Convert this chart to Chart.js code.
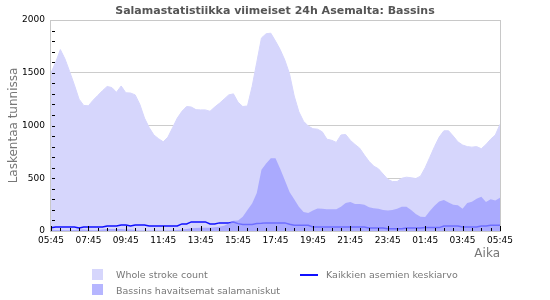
<!DOCTYPE html>
<html>
<head>
<meta charset="utf-8">
<script src="https://cdn.jsdelivr.net/npm/chart.js@4/dist/chart.umd.min.js"></script>
<style>
  body { margin: 0; background: #fff; font-family: "DejaVu Sans", sans-serif; }
  #wrap { position: relative; width: 550px; height: 300px; }
  #title { position: absolute; left: 0; top: 4px; width: 550px; text-align: center;
           font-size: 11px; font-weight: bold; color: #555; line-height: 13px; }
  .legText { position: absolute; font-size: 9.5px; color: #777; line-height: 12px; white-space: nowrap; }
  .legBox { position: absolute; width: 11px; height: 11px; }
  .legLine { position: absolute; width: 18px; height: 2px; }
</style>
</head>
<body>
<div id="wrap">
  <canvas id="strikeChart" width="550" height="300"></canvas>
  <div id="title">Salamastatistiikka viimeiset 24h Asemalta: Bassins</div>
  <div id="legend"></div>
</div>
<script>
// 15 minute steps over the last 24h
const times = [
  "05:45",
  "06:00", "06:15", "06:30", "06:45", "07:00", "07:15", "07:30", "07:45",
  "08:00", "08:15", "08:30", "08:45", "09:00", "09:15", "09:30", "09:45",
  "10:00", "10:15", "10:30", "10:45", "11:00", "11:15", "11:30", "11:45",
  "12:00", "12:15", "12:30", "12:45", "13:00", "13:15", "13:30", "13:45",
  "14:00", "14:15", "14:30", "14:45", "15:00", "15:15", "15:30", "15:45",
  "16:00", "16:15", "16:30", "16:45", "17:00", "17:15", "17:30", "17:45",
  "18:00", "18:15", "18:30", "18:45", "19:00", "19:15", "19:30", "19:45",
  "20:00", "20:15", "20:30", "20:45", "21:00", "21:15", "21:30", "21:45",
  "22:00", "22:15", "22:30", "22:45", "23:00", "23:15", "23:30", "23:45",
  "00:00", "00:15", "00:30", "00:45", "01:00", "01:15", "01:30", "01:45",
  "02:00", "02:15", "02:30", "02:45", "03:00", "03:15", "03:30", "03:45",
  "04:00", "04:15", "04:30", "04:45", "05:00", "05:15", "05:30", "05:45"
];

const tickLabels = ["05:45", "07:45", "09:45", "11:45", "13:45", "15:45", "17:45",
  "19:45", "21:45", "23:45", "01:45", "03:45"];

const wholeStrokes = [
  1500, 1600, 1720, 1630, 1510, 1385, 1250, 1190, 1187, 1240, 1285, 1330,
  1370, 1360, 1315, 1375, 1310, 1308, 1290, 1200, 1070, 980, 910, 875,
  845, 890, 980, 1070, 1135, 1180, 1175, 1150, 1148, 1148, 1135, 1175,
  1210, 1250, 1290, 1300, 1220, 1180, 1185, 1370, 1600, 1830, 1870, 1875,
  1800, 1720, 1620, 1490, 1280, 1130, 1040, 995, 970, 965, 940, 870,
  860, 840, 910, 915, 860, 820, 785, 720, 660, 615, 590, 540,
  490, 469, 469, 500, 510, 505, 497, 520, 600, 700, 800, 890,
  950, 950, 900, 845, 815, 800, 795, 800, 780, 820, 870, 910,
  1011
];

const stationStrokes = [
  15, 10, 10, 8, 8, 10, 15, 15, 10, 8, 8, 15,
  20, 20, 20, 20, 15, 15, 10, 5, 5, 5, 5, 5,
  5, 5, 8, 10, 15, 20, 25, 28, 30, 30, 30, 35,
  40, 50, 70, 98, 100, 135, 200, 260, 360, 580, 640, 690,
  690, 590, 480, 370, 300, 230, 180, 170, 195, 214, 210, 205,
  205, 205, 230, 265, 275, 255, 255, 250, 225, 215, 210, 200,
  195, 198, 212, 230, 230, 200, 160, 135, 133, 190, 240, 280,
  295, 270, 250, 245, 210, 265, 278, 305, 325, 275, 300, 290,
  316
];

const allStationsAvg = [
  30, 38, 38, 38, 38, 38, 29, 38, 38, 38, 38, 38,
  48, 48, 48, 57, 57, 48, 57, 57, 57, 48, 48, 48,
  48, 48, 48, 48, 67, 67, 86, 86, 86, 86, 67, 67,
  77, 77, 77, 86, 70, 61, 61, 61, 70, 73, 77, 77,
  77, 77, 77, 64, 54, 54, 54, 54, 38, 38, 38, 38,
  38, 38, 38, 38, 38, 38, 38, 38, 29, 29, 29, 29,
  22, 22, 22, 22, 29, 29, 29, 29, 32, 32, 32, 32,
  48, 48, 48, 48, 38, 38, 38, 38, 48, 48, 54, 54,
  54
];

const seriesNames = ["Whole stroke count", "Bassins havaitsemat salamaniskut", "Kaikkien asemien keskiarvo"];
const wholeColor = "rgb(214, 214, 252)";
const stationColor = "rgba(151, 151, 255, 0.7)";
const avgColor = "rgb(16, 16, 255)";

// small inside tick marks + plot frame
const frameTicks = {
  id: "frameTicks",
  afterDatasetsDraw(chart) {
    const { ctx, chartArea: a, scales } = chart;
    ctx.save();
    ctx.strokeStyle = "#c8c8c8";
    ctx.lineWidth = 1;
    ctx.strokeRect(a.left - 0.5, a.top + 0.5, a.right - a.left + 1, a.bottom - a.top);
    ctx.strokeStyle = "#000";
    ctx.beginPath();
    for (let v = 100; v < 2000; v += 100) {
      const y = Math.round(scales.y.getPixelForValue(v)) + 0.5;
      ctx.moveTo(a.left + 1, y);
      ctx.lineTo(a.left + 4, y);
    }
    for (let i = 0; i < times.length; i += 2) {
      const x = Math.round(scales.x.getPixelForValue(i)) + 0.5;
      const len = i % 8 === 0 ? 5 : 3;
      ctx.moveTo(x, a.bottom);
      ctx.lineTo(x, a.bottom - len);
    }
    ctx.stroke();
    ctx.restore();
  }
};

new Chart(document.getElementById("strikeChart"), {
  type: "line",
  data: {
    labels: times,
    datasets: [
      {
        label: seriesNames[0],
        data: wholeStrokes,
        backgroundColor: wholeColor,
        borderColor: wholeColor,
        borderWidth: 1,
        fill: "origin",
        order: 3
      },
      {
        label: seriesNames[2],
        data: allStationsAvg,
        borderColor: avgColor,
        borderWidth: 1.5,
        fill: false,
        order: 2
      },
      {
        label: seriesNames[1],
        data: stationStrokes,
        backgroundColor: stationColor,
        borderColor: "rgba(0,0,0,0)",
        borderWidth: 0,
        fill: "origin",
        order: 1
      }
    ]
  },
  options: {
    responsive: false,
    animation: false,
    layout: { padding: { left: 0, right: 50, top: 20, bottom: 39 } },
    elements: { point: { radius: 0 }, line: { tension: 0 } },
    plugins: {
      legend: { display: false },
      tooltip: { enabled: false },
      title: { display: false }
    },
    scales: {
      x: {
        type: "category",
        grid: { display: false, drawTicks: false },
        border: { display: false },
        ticks: {
          autoSkip: false,
          maxRotation: 0,
          minRotation: 0,
          padding: 4,
          color: "#000",
          font: { family: "DejaVu Sans", size: 9 },
          callback: (v, i) => (tickLabels.includes(times[i]) ? times[i] : "")
        },
        title: {
          display: true,
          text: "Aika",
          align: "end",
          color: "#777",
          font: { family: "DejaVu Sans", size: 12 },
          padding: { top: 1, bottom: 0 }
        },
        afterFit: (s) => { s.height = 30; }
      },
      y: {
        min: 0,
        max: 2000,
        grid: { color: "#cccccc", drawTicks: false },
        border: { display: false },
        ticks: {
          stepSize: 500,
          padding: 6,
          color: "#000",
          font: { family: "DejaVu Sans", size: 9 },
          callback: (v) => String(v)
        },
        title: {
          display: true,
          text: "Laskentaa tunnissa",
          color: "#777",
          font: { family: "DejaVu Sans", size: 12 },
          padding: { top: 7, bottom: 0 }
        },
        afterFit: (s) => { s.width = 51; }
      }
    }
  },
  plugins: [frameTicks]
});

// legend below the chart
const legend = document.getElementById("legend");
legend.innerHTML =
  '<div class="legBox" style="left:92px;top:269px;background:' + wholeColor + '"></div>' +
  '<div class="legText" style="left:116px;top:269px">' + seriesNames[0] + '</div>' +
  '<div class="legBox" style="left:92px;top:284px;background:rgb(182,182,255)"></div>' +
  '<div class="legText" style="left:116px;top:285px">' + seriesNames[1] + '</div>' +
  '<div class="legLine" style="left:300px;top:274px;background:' + avgColor + '"></div>' +
  '<div class="legText" style="left:326px;top:269px">' + seriesNames[2] + '</div>';
</script>
</body>
</html>
